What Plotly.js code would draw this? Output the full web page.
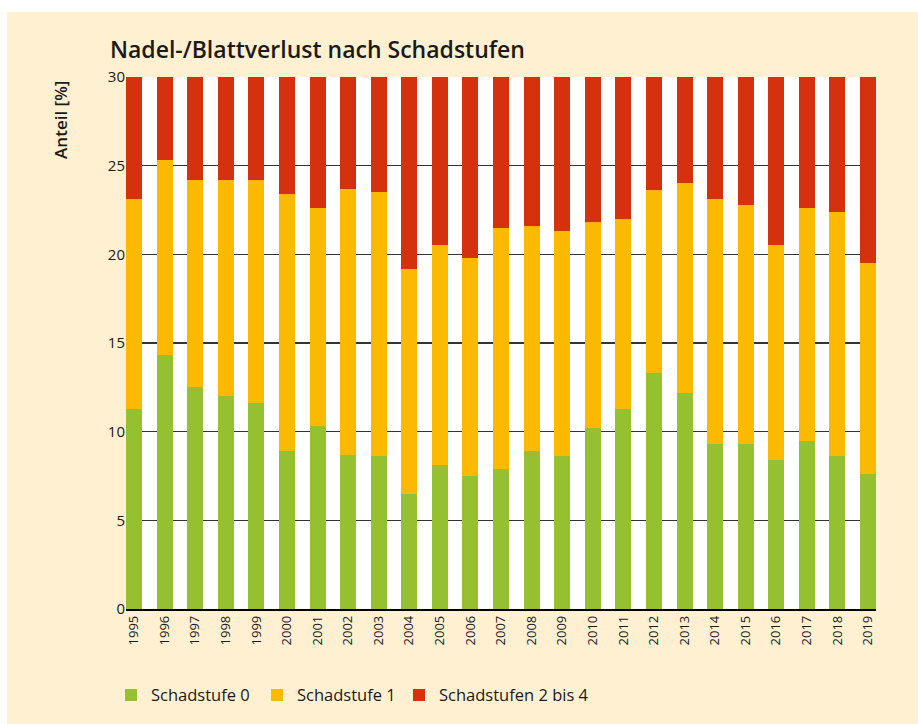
<!DOCTYPE html>
<html>
<head>
<meta charset="utf-8">
<script src="https://cdn.plot.ly/plotly-3.0.1.min.js"></script>
<style>
  html, body { margin: 0; padding: 0; background: #ffffff; width: 918px; height: 724px; overflow: hidden; }
  #chart { position: absolute; left: 7px; top: 12px; width: 911px; height: 712px; }
</style>
</head>
<body>
<div id="chart"></div>
<script>
// Jahre (Kategorien)
const years = ["1995","1996","1997","1998","1999","2000","2001","2002","2003","2004","2005","2006","2007",
               "2008","2009","2010","2011","2012","2013","2014","2015","2016","2017","2018","2019"];

// Schadstufe 0 [%]
const stufe0 = [11.3, 14.3, 12.5, 12.0, 11.6, 8.9, 10.3, 8.7, 8.6, 6.5, 8.1, 7.5, 7.9,
                8.9, 8.6, 10.2, 11.3, 13.3, 12.2, 9.3, 9.3, 8.4, 9.5, 8.6, 7.6];

// Schadstufe 1 [%]
const stufe1 = [11.8, 11.0, 11.7, 12.2, 12.6, 14.5, 12.3, 15.0, 14.9, 12.7, 12.4, 12.3, 13.6,
                12.7, 12.7, 11.6, 10.7, 10.3, 11.8, 13.8, 13.5, 12.1, 13.1, 13.8, 11.9];

// Schadstufen 2 bis 4 [%] (Ausschnitt bis zur Achsengrenze)
const stufe24 = [6.9, 4.7, 5.8, 5.8, 5.8, 6.6, 7.4, 6.3, 6.5, 10.8, 9.5, 10.2, 8.6,
                 8.4, 8.7, 8.2, 8.0, 6.4, 6.0, 6.9, 7.2, 9.5, 7.4, 7.6, 10.5];

const seriesNames = ["Schadstufe 0", "Schadstufe 1", "Schadstufen 2 bis 4"];
const seriesColors = ["#95c131", "#fbb900", "#d5310e"];
const yTicks = [0, 5, 10, 15, 20, 25, 30];

const FONT = "Open Sans, Noto Sans, sans-serif";
const legendIds = ["legend", "legend2", "legend3"];
const legendX = [-0.02, 0.1747, 0.364];

const traces = [stufe0, stufe1, stufe24].map((vals, i) => ({
  type: "bar",
  x: years,
  y: vals,
  name: seriesNames[i],
  legend: legendIds[i],
  marker: { color: seriesColors[i], line: { width: 0 } },
  hoverinfo: "x+y+name"
}));

const layout = {
  width: 911,
  height: 712,
  barmode: "stack",
  bargap: 0.477,
  paper_bgcolor: "#fff0d1",
  plot_bgcolor: "#ffffff",
  margin: { l: 119, r: 42, t: 65, b: 113.5, pad: 0 },
  font: { family: FONT, color: "#1a1a1a" },
  title: {
    text: "Nadel-/Blattverlust nach Schadstufen",
    font: { family: FONT, size: 23, weight: 600, color: "#1a1a1a" },
    xref: "container", yref: "container",
    x: 103 / 911, xanchor: "left",
    y: 1 - 38 / 712, yanchor: "middle"
  },
  xaxis: {
    type: "category",
    range: [-0.2616, 24.2616],
    tickangle: -90,
    tickfont: { family: FONT, size: 13, color: "#1a1a1a" },
    ticks: "",
    showgrid: false,
    showline: true,
    linecolor: "#000000",
    linewidth: 1.5,
    fixedrange: true
  },
  yaxis: {
    range: [0, 30],
    tickvals: yTicks,
    ticktext: yTicks.map(String),
    tickfont: { family: FONT, size: 15, color: "#1a1a1a" },
    ticks: "",
    showgrid: true,
    gridcolor: "#333333",
    gridwidth: 1.2,
    zeroline: false,
    showline: false,
    fixedrange: true
  },
  showlegend: true,
  annotations: [{
    text: "Anteil [%]",
    xref: "paper", yref: "paper",
    x: (54 - 119) / 750, y: (598.5 - 108) / 533.5,
    xanchor: "center", yanchor: "middle",
    textangle: -90,
    showarrow: false,
    font: { family: FONT, size: 17, weight: 600, color: "#1a1a1a" }
  }]
};

legendIds.forEach((id, i) => {
  layout[id] = {
    orientation: "h",
    x: legendX[i], xanchor: "left",
    y: -0.16, yanchor: "middle",
    font: { family: FONT, size: 16.5, color: "#1a1a1a" },
    bgcolor: "rgba(0,0,0,0)"
  };
});

Plotly.newPlot("chart", traces, layout, { displayModeBar: false, staticPlot: true });
</script>
</body>
</html>
